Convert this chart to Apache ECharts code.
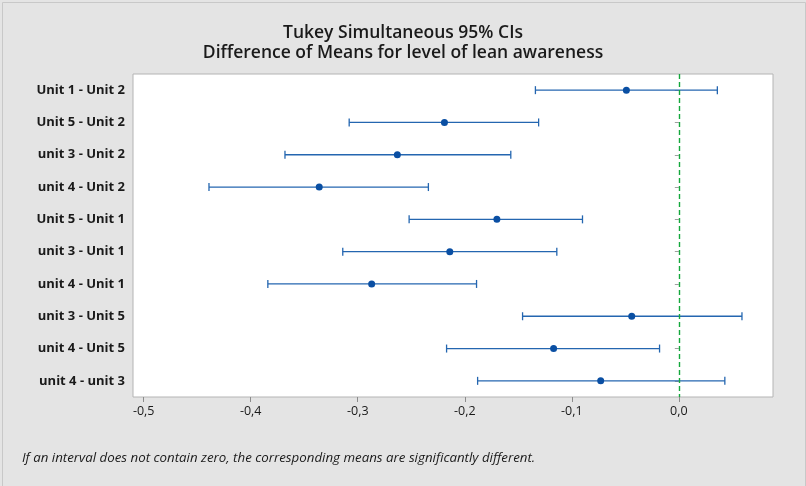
<!DOCTYPE html>
<html>
<head>
<meta charset="utf-8">
<script src="https://cdn.jsdelivr.net/npm/echarts@6/dist/echarts.min.js"></script>
<style>
  html, body { margin: 0; padding: 0; background: #e4e4e4; }
  #chart { width: 806px; height: 486px; }
</style>
</head>
<body>
<div id="chart"></div>
<script>
// Pairwise comparisons (top to bottom)
const comparisons = [
  'Unit 1 - Unit 2', 'Unit 5 - Unit 2', 'unit 3 - Unit 2', 'unit 4 - Unit 2',
  'Unit 5 - Unit 1', 'unit 3 - Unit 1', 'unit 4 - Unit 1', 'unit 3 - Unit 5',
  'unit 4 - Unit 5', 'unit 4 - unit 3'
];
// Difference of means and Tukey 95% interval bounds
const diffMeans = [-0.049, -0.219, -0.263, -0.336, -0.170, -0.214, -0.287, -0.044, -0.117, -0.073];
const lowerCI   = [-0.134, -0.308, -0.368, -0.439, -0.252, -0.314, -0.384, -0.146, -0.217, -0.188];
const upperCI   = [ 0.036, -0.131, -0.157, -0.234, -0.090, -0.114, -0.189,  0.059, -0.018,  0.043];
const xTicks = [-0.5, -0.4, -0.3, -0.2, -0.1, 0.0];

const intervalData = comparisons.map((c, i) => [i, lowerCI[i], upperCI[i]]);
const meanData = comparisons.map((c, i) => [diffMeans[i], i]);

const fontFamily = '"Open Sans", "Noto Sans", sans-serif';
const chart = echarts.init(document.getElementById('chart'), null, { renderer: 'canvas' });

chart.setOption({
  backgroundColor: '#e4e4e4',
  animation: false,
  title: {
    text: 'Tukey Simultaneous 95% CIs\nDifference of Means for level of lean awareness',
    left: 'center',
    top: 18,
    textStyle: {
      fontFamily: fontFamily,
      fontSize: 17.5,
      fontWeight: 600,
      color: '#1a1a1a',
      lineHeight: 20
    }
  },
  graphic: [
    {
      type: 'rect',
      shape: { x: 2.5, y: 2.5, width: 803, height: 485 },
      style: { fill: 'none', stroke: '#c8c8c8', lineWidth: 1 },
      silent: true
    },
    {
      type: 'text',
      left: 22,
      top: 452,
      style: {
        text: 'If an interval does not contain zero, the corresponding means are significantly different.',
        fontFamily: fontFamily,
        fontSize: 13.3,
        fontStyle: 'italic',
        fill: '#1a1a1a'
      }
    }
  ],
  grid: {
    left: 133,
    right: 33,
    top: 74,
    bottom: 89,
    show: true,
    backgroundColor: '#ffffff',
    borderColor: '#b4b4b4',
    borderWidth: 1
  },
  xAxis: {
    type: 'value',
    min: -0.51,
    max: 0.088,
    splitLine: { show: false },
    axisLine: { show: false },
    axisTick: {
      show: true,
      length: 5,
      customValues: xTicks,
      lineStyle: { color: '#8c8c8c' }
    },
    axisLabel: {
      customValues: xTicks,
      formatter: v => v.toFixed(1).replace('.', ',').replace('-0,0', '0,0'),
      fontFamily: fontFamily,
      fontSize: 12.5,
      color: '#1a1a1a',
      margin: 8
    }
  },
  yAxis: {
    type: 'category',
    data: comparisons,
    inverse: true,
    axisLine: { show: false },
    axisTick: {
      show: true,
      alignWithLabel: true,
      length: 4,
      lineStyle: { color: '#a0a0a0' }
    },
    axisLabel: {
      fontFamily: fontFamily,
      fontSize: 13,
      fontWeight: 'bold',
      color: '#1a1a1a',
      margin: 8
    },
    splitLine: { show: false }
  },
  series: [
    {
      type: 'custom',
      name: 'CI',
      data: intervalData,
      encode: { y: 0, x: [1, 2] },
      renderItem: function (params, api) {
        const cat = api.value(0);
        const lo = api.coord([api.value(1), cat]);
        const hi = api.coord([api.value(2), cat]);
        const cap = 4;
        const style = { stroke: '#2466b0', lineWidth: 1.3 };
        return {
          type: 'group',
          children: [
            { type: 'line', shape: { x1: lo[0], y1: lo[1], x2: hi[0], y2: hi[1] }, style: style },
            { type: 'line', shape: { x1: lo[0], y1: lo[1] - cap, x2: lo[0], y2: lo[1] + cap }, style: style },
            { type: 'line', shape: { x1: hi[0], y1: hi[1] - cap, x2: hi[0], y2: hi[1] + cap }, style: style }
          ]
        };
      },
      markLine: {
        silent: true,
        symbol: 'none',
        label: { show: false },
        emphasis: { disabled: true },
        lineStyle: { color: '#14a83c', type: [5, 3], width: 1.4, opacity: 1 },
        data: [{ xAxis: 0 }]
      },
      z: 2
    },
    {
      type: 'scatter',
      name: 'Mean',
      data: meanData,
      symbol: 'circle',
      symbolSize: 7,
      itemStyle: { color: '#0a4fa3', opacity: 1 },
      z: 3
    }
  ]
});
</script>
</body>
</html>
